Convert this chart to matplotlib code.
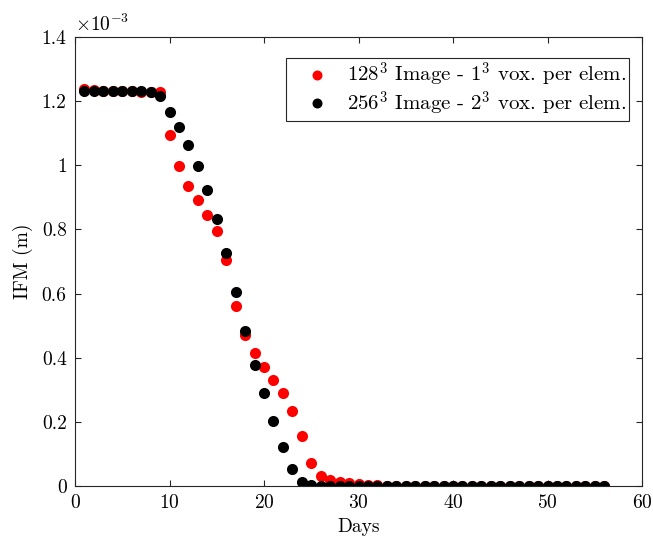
import numpy as np
import matplotlib
matplotlib.use('Agg')
import matplotlib.pyplot as plt
from matplotlib.ticker import FuncFormatter

plt.rcParams['font.family'] = 'serif'
plt.rcParams['font.serif'] = ['cmr10']
plt.rcParams['mathtext.fontset'] = 'cm'
plt.rcParams['axes.unicode_minus'] = False
plt.rcParams['axes.formatter.use_mathtext'] = True

days = np.arange(1, 57)

# IFM (m), 128^3 image, 1^3 voxels per element
ifm_128 = [
    1.237e-3, 1.234e-3, 1.233e-3, 1.232e-3, 1.231e-3, 1.231e-3, 1.230e-3, 1.230e-3,
    1.228e-3, 1.094e-3, 0.998e-3, 0.935e-3, 0.892e-3, 0.845e-3, 0.796e-3, 0.705e-3,
    0.561e-3, 0.471e-3, 0.416e-3, 0.370e-3, 0.331e-3, 0.291e-3, 0.235e-3, 0.156e-3,
    0.071e-3, 0.032e-3, 0.019e-3, 0.012e-3, 0.008e-3, 0.005e-3, 0.003e-3, 0.002e-3,
    0.001e-3, 0.001e-3, 0.001e-3, 0.0, 0.0, 0.0, 0.0, 0.0,
    0.0, 0.0, 0.0, 0.0, 0.0, 0.0, 0.0, 0.0,
    0.0, 0.0, 0.0, 0.0, 0.0, 0.0, 0.0, 0.0,
]

# IFM (m), 256^3 image, 2^3 voxels per element
ifm_256 = [
    1.233e-3, 1.233e-3, 1.233e-3, 1.232e-3, 1.232e-3, 1.232e-3, 1.231e-3, 1.230e-3,
    1.215e-3, 1.167e-3, 1.118e-3, 1.063e-3, 0.999e-3, 0.922e-3, 0.832e-3, 0.726e-3,
    0.605e-3, 0.484e-3, 0.377e-3, 0.289e-3, 0.204e-3, 0.123e-3, 0.052e-3, 0.011e-3,
    0.002e-3, 0.001e-3, 0.0, 0.0, 0.0, 0.0, 0.0, 0.0,
    0.0, 0.0, 0.0, 0.0, 0.0, 0.0, 0.0, 0.0,
    0.0, 0.0, 0.0, 0.0, 0.0, 0.0, 0.0, 0.0,
    0.0, 0.0, 0.0, 0.0, 0.0, 0.0, 0.0, 0.0,
]

labels = [r'$128^3$ Image - $1^3$ vox. per elem.',
          r'$256^3$ Image - $2^3$ vox. per elem.']

fig = plt.figure(figsize=(6.53, 5.41), dpi=100)
ax = fig.add_axes([75 / 653, 1 - 486 / 541, 567 / 653, 449 / 541])

ax.plot(days, ifm_128, 'o', color='red', markersize=8, markeredgewidth=0,
        label=labels[0])
ax.plot(days, ifm_256, 'o', color='black', markersize=8, markeredgewidth=0,
        label=labels[1])

ax.set_xlim(0, 60)
ax.set_ylim(0, 1.4e-3)
ax.set_xticks(range(0, 61, 10))
ax.set_yticks(np.arange(0, 1.41e-3, 0.2e-3))
ax.yaxis.set_major_formatter(FuncFormatter(lambda v, p: '%g' % round(v * 1e3, 3)))

axis_color = '0.15'
for s in ax.spines.values():
    s.set_color(axis_color)
    s.set_linewidth(0.8)
ax.tick_params(direction='in', length=4.5, width=0.8, top=True, right=True,
               colors=axis_color, labelsize=14, pad=6)
for t in ax.get_xticklabels() + ax.get_yticklabels():
    t.set_color('black')

ax.text(0.0, 1.005, r'$\times10^{-3}$', transform=ax.transAxes,
        ha='left', va='bottom', fontsize=14)

ax.set_xlabel('Days', fontsize=14, labelpad=4)
ax.set_ylabel('IFM (m)', fontsize=14, labelpad=6)

leg = ax.legend(loc='upper right', bbox_to_anchor=(0.977, 0.953),
                borderaxespad=0, fontsize=15, fancybox=False, framealpha=1,
                edgecolor=axis_color, handletextpad=0.15, borderpad=0.15,
                labelspacing=0.0, handlelength=2.6, markerscale=0.9)
leg.get_frame().set_linewidth(0.8)

fig.savefig('out.png', dpi=100)
